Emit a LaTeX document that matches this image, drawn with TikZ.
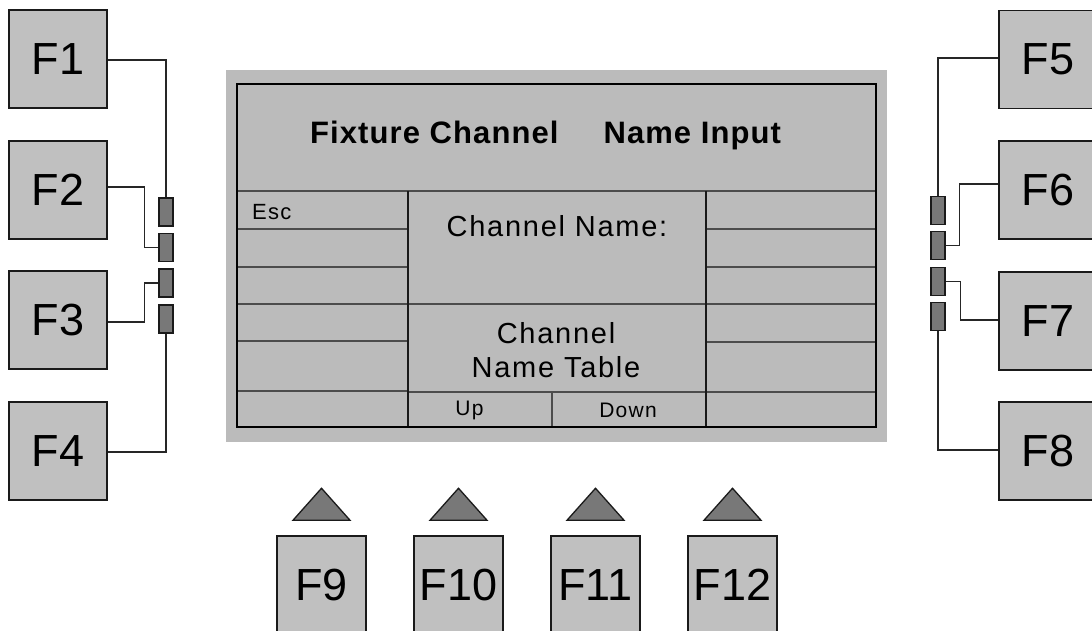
\documentclass[tikz,border=0pt]{standalone}
\usepackage{fontspec}
\setmainfont{Liberation Sans}
\newfontfamily\spaced[LetterSpace=6]{Liberation Sans}
\newfontfamily\spacedbold[LetterSpace=3.5]{Liberation Sans Bold}
\definecolor{keygray}{HTML}{C0C0C0}
\definecolor{scrgray}{HTML}{BBBBBB}
\definecolor{btngray}{HTML}{787878}
\definecolor{edge}{HTML}{1A1A1A}
\begin{document}
\begin{tikzpicture}[x=1pt,y=-1pt,
  key/.style={draw=edge,line width=1.5pt,fill=keygray,minimum width=98pt,minimum height=98pt,inner sep=0pt,font=\fontsize{45}{54}\selectfont},
  bkey/.style={key,minimum width=89pt},
  btn/.style={draw=edge,line width=1.3pt,fill=btngray,minimum width=14pt,minimum height=28pt,inner sep=0pt},
  tri/.style={draw=edge,line width=1.3pt,fill=btngray,line join=miter},
  wire/.style={line width=1.3pt,draw=black!85},
  cell/.style={line width=1.2pt,draw=black!70},
  vcell/.style={line width=1.2pt,draw=black!90},
  lbl/.style={inner sep=0pt,anchor=base},
]
\useasboundingbox (0,0) rectangle (1092,630);
\clip (0,0) rectangle (1092,630);

% screen
\fill[scrgray] (226,70) rectangle (887,442);
\draw[cell] (237,191) -- (876,191);
\foreach \y in {229,267,304,341,391} \draw[cell] (237,\y) -- (408,\y);
\foreach \y in {229,267,304,342,392} \draw[cell] (706,\y) -- (876,\y);
\draw[cell] (408,304) -- (706,304);
\draw[cell] (408,392) -- (706,392);
\draw[cell] (552,392) -- (552,427);
\draw[vcell] (408,191) -- (408,427);
\draw[vcell] (706,191) -- (706,427);
\draw[line width=2.5pt,draw=black] (237,84) rectangle (876,427);

\node[lbl,anchor=base west,font=\spacedbold\fontsize{31}{36}\selectfont] (title) at (310,143) {Fixture Channel\hspace{45pt}Name Input};
\node[lbl,anchor=base west,font=\spaced\fontsize{22}{26}\selectfont] (esc) at (252,219) {Esc};
\node[lbl,font=\spaced\fontsize{29}{34}\selectfont] (chname) at (557,236) {Channel Name:};
\node[lbl,font=\spaced\fontsize{29}{34}\selectfont,align=center] (chtable) at (556,377) {Channel\\Name Table};
\node[lbl,font=\spaced\fontsize{21}{25}\selectfont] (up) at (469.5,415) {Up};
\node[lbl,font=\spaced\fontsize{21}{25}\selectfont] (down) at (628,417) {Down};

% left keys
\node[key] (F1) at (58,59) {F1};
\node[key] (F2) at (58,190) {F2};
\node[key] (F3) at (58,320) {F3};
\node[key] (F4) at (58,451) {F4};
% right keys
\node[key] (F5) at (1048,59.5) {F5};
\node[key] (F6) at (1048,190) {F6};
\node[key] (F7) at (1048,321) {F7};
\node[key] (F8) at (1048,451) {F8};
% bottom keys
\node[bkey] (F9) at (321.5,585) {F9};
\node[bkey] (F10) at (458.5,585) {F10};
\node[bkey] (F11) at (595.5,585) {F11};
\node[bkey] (F12) at (732.5,585) {F12};

% small buttons
\node[btn] (L1) at (166,212) {};
\node[btn] (L2) at (166,247.5) {};
\node[btn] (L3) at (166,283) {};
\node[btn] (L4) at (166,319) {};
\node[btn] (R1) at (938,210.5) {};
\node[btn] (R2) at (938,245.5) {};
\node[btn] (R3) at (938,281.5) {};
\node[btn] (R4) at (938,316.5) {};

% wires
\draw[wire] ([yshift=-1pt]F1.east) -| (L1.north);
\draw[wire] ([yshift=3pt]F2.east) -- ++(37,0) |- (L2.west);
\draw[wire] ([yshift=-2pt]F3.east) -- ++(37,0) |- (L3.west);
\draw[wire] ([yshift=-1pt]F4.east) -| (L4.south);
\draw[wire] ([yshift=1.5pt]F5.west) -| (R1.north);
\draw[wire] ([yshift=6pt]F6.west) -- ++(-39,0) |- (R2.east);
\draw[wire] (R3.east) -- ++(15,0) |- ([yshift=1pt]F7.west);
\draw[wire] (R4.south) |- ([yshift=1pt]F8.west);

% triangles
\foreach \k in {F9,F10,F11,F12}
  \draw[tri] ([yshift=15pt]\k.north) ++(-28.5,0) -- ++(57,0) -- ++(-28.5,-32) -- cycle;
\end{tikzpicture}
\end{document}
